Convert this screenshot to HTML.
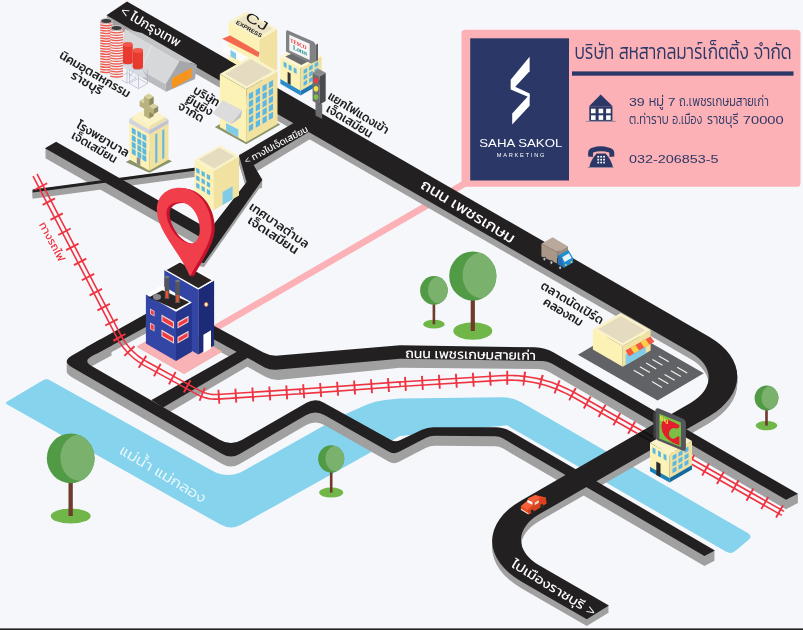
<!DOCTYPE html>
<html lang="th"><head><meta charset="utf-8"><title>แผนที่ บริษัท สหสากลมาร์เก็ตติ้ง จำกัด</title>
<style>
html,body{margin:0;padding:0;background:#f6f7fb;}
body{width:803px;height:630px;overflow:hidden;}
svg{display:block;font-family:'Liberation Sans','Kanit','Prompt','Noto Sans Thai','Noto Sans CJK SC',sans-serif;font-weight:300;}
text{filter:opacity(1);}
</style></head><body>
<svg width="803" height="630" viewBox="0 0 803 630">
<rect width="803" height="630" fill="#f6f7fb"/>
<path d="M 7.2,404.6 Q 4.6,403.1 7.2,401.6 L 43,380.3 Q 46.4,378.3 49.9,380.2 L 212.3,470.7 Q 228,479.5 243.7,470.7 L 340,416.5 L 365.9,405 Q 375,401 385,400 L 400,398.5 L 502.5,397.3 Q 512.5,397.2 521.2,402.2 L 747.8,533.1 Q 753,536.1 748.4,540 L 735.6,550.7 Q 731,554.6 725.8,551.6 L 507,425.3 L 460,430 L 400,436 L 241.5,524.6 Q 231,530.5 220.5,524.6 Z" fill="#86d3ed"/>
<line x1="468" y1="181.6" x2="214" y2="328.9" stroke="#fbb1b5" stroke-width="6.6"/>
<rect x="461.5" y="29.7" width="339" height="157" rx="3.5" fill="#fbb1b5"/>
<rect x="470.2" y="38.3" width="98.8" height="142.2" fill="#2b3867"/>
<rect x="572" y="71.4" width="221.5" height="4.3" fill="#2b3867"/>
<path d="M 205,329 L 262,357 L 400,350 L 540,352 L 797.9,494 L 797.9,502.9 L 786,509.3 L 549.2,372 Q 544,369 538,369 L 400,367.8 L 280.5,379.8 Q 272.5,380.6 265.5,376.7 L 205,343.5 Z" fill="#a0a0a0"/>
<path d="M 127,8.3 L 708.7,343.3 A 98.3 56.8 0 0 1 708.7,423.4 L 539.5,521 A 63.1 36.4 0 0 0 539.5,572.5 L 608.9,612.5 L 586.8,626.1 L 521.3,588.2 A 99.1 57.2 0 0 1 521.3,507.3 L 690.5,409.8 A 62.1 35.85 0 0 0 690.5,359.1 L 106.5,22.2 Z" fill="#a0a0a0"/>
<path d="M 127,7.3 L 708.7,342.3 A 98.3 56.8 0 0 1 708.7,422.4 L 539.5,520 A 63.1 36.4 0 0 0 539.5,571.5 L 608.9,611.5 L 586.8,625.1 L 521.3,587.2 A 99.1 57.2 0 0 1 521.3,506.3 L 690.5,408.8 A 62.1 35.85 0 0 0 690.5,358.1 L 106.5,21.2 Z" fill="#a0a0a0"/>
<path d="M 127,6.3 L 708.7,341.3 A 98.3 56.8 0 0 1 708.7,421.4 L 539.5,519 A 63.1 36.4 0 0 0 539.5,570.5 L 608.9,610.5 L 586.8,624.1 L 521.3,586.2 A 99.1 57.2 0 0 1 521.3,505.3 L 690.5,407.8 A 62.1 35.85 0 0 0 690.5,357.1 L 106.5,20.2 Z" fill="#a0a0a0"/>
<path d="M 127,5.3 L 708.7,340.3 A 98.3 56.8 0 0 1 708.7,420.4 L 539.5,518 A 63.1 36.4 0 0 0 539.5,569.5 L 608.9,609.5 L 586.8,623.1 L 521.3,585.2 A 99.1 57.2 0 0 1 521.3,504.3 L 690.5,406.8 A 62.1 35.85 0 0 0 690.5,356.1 L 106.5,19.2 Z" fill="#a0a0a0"/>
<path d="M 127,4.3 L 708.7,339.3 A 98.3 56.8 0 0 1 708.7,419.4 L 539.5,517 A 63.1 36.4 0 0 0 539.5,568.5 L 608.9,608.5 L 586.8,622.1 L 521.3,584.2 A 99.1 57.2 0 0 1 521.3,503.3 L 690.5,405.8 A 62.1 35.85 0 0 0 690.5,355.1 L 106.5,18.2 Z" fill="#a0a0a0"/>
<path d="M 127,3.3 L 708.7,338.3 A 98.3 56.8 0 0 1 708.7,418.4 L 539.5,516 A 63.1 36.4 0 0 0 539.5,567.5 L 608.9,607.5 L 586.8,621.1 L 521.3,583.2 A 99.1 57.2 0 0 1 521.3,502.3 L 690.5,404.8 A 62.1 35.85 0 0 0 690.5,354.1 L 106.5,17.2 Z" fill="#a0a0a0"/>
<path d="M 127,2.3 L 708.7,337.3 A 98.3 56.8 0 0 1 708.7,417.4 L 539.5,515 A 63.1 36.4 0 0 0 539.5,566.5 L 608.9,606.5 L 586.8,620.1 L 521.3,582.2 A 99.1 57.2 0 0 1 521.3,501.3 L 690.5,403.8 A 62.1 35.85 0 0 0 690.5,353.1 L 106.5,16.2 Z" fill="#a0a0a0"/>
<path d="M 91.7,366.2 Q 82.9,370.9 91.6,375.9 L 219.6,449.8 Q 230.9,456.3 242.2,449.8 L 306.5,412.8 Q 315.2,407.8 323.9,412.7 L 391,450 Q 395.4,452.4 399.9,450.2 L 421.9,439.8 Q 427.3,437.2 433.3,437.2 L 495.7,437.3 Q 503.7,437.3 510.6,441.3 L 714.9,560.4 L 704.4,565.9 L 502.7,448.3 Q 499.2,446.3 495.2,446.3 L 435,445.8 Q 430,445.8 425.6,448.1 L 399.1,461.8 Q 393.8,464.6 388.6,461.6 L 324.8,425.2 Q 315.3,419.7 305.8,425.3 L 239.6,464 Q 231,469 222.3,464 L 71.9,377.3 Q 61.5,371.3 72,365.4 L 100,349.6 L 112,355.3 Z" fill="#a0a0a0"/>
<path d="M 91.7,365.2 Q 82.9,369.9 91.6,374.9 L 219.6,448.8 Q 230.9,455.3 242.2,448.8 L 306.5,411.8 Q 315.2,406.8 323.9,411.7 L 391,449 Q 395.4,451.4 399.9,449.2 L 421.9,438.8 Q 427.3,436.2 433.3,436.2 L 495.7,436.3 Q 503.7,436.3 510.6,440.3 L 714.9,559.4 L 704.4,564.9 L 502.7,447.3 Q 499.2,445.3 495.2,445.3 L 435,444.8 Q 430,444.8 425.6,447.1 L 399.1,460.8 Q 393.8,463.6 388.6,460.6 L 324.8,424.2 Q 315.3,418.7 305.8,424.3 L 239.6,463 Q 231,468 222.3,463 L 71.9,376.3 Q 61.5,370.3 72,364.4 L 100,348.6 L 112,354.3 Z" fill="#a0a0a0"/>
<path d="M 91.7,364.2 Q 82.9,368.9 91.6,373.9 L 219.6,447.8 Q 230.9,454.3 242.2,447.8 L 306.5,410.8 Q 315.2,405.8 323.9,410.7 L 391,448 Q 395.4,450.4 399.9,448.2 L 421.9,437.8 Q 427.3,435.2 433.3,435.2 L 495.7,435.3 Q 503.7,435.3 510.6,439.3 L 714.9,558.4 L 704.4,563.9 L 502.7,446.3 Q 499.2,444.3 495.2,444.3 L 435,443.8 Q 430,443.8 425.6,446.1 L 399.1,459.8 Q 393.8,462.6 388.6,459.6 L 324.8,423.2 Q 315.3,417.7 305.8,423.3 L 239.6,462 Q 231,467 222.3,462 L 71.9,375.3 Q 61.5,369.3 72,363.4 L 100,347.6 L 112,353.3 Z" fill="#a0a0a0"/>
<path d="M 91.7,363.2 Q 82.9,367.9 91.6,372.9 L 219.6,446.8 Q 230.9,453.3 242.2,446.8 L 306.5,409.8 Q 315.2,404.8 323.9,409.7 L 391,447 Q 395.4,449.4 399.9,447.2 L 421.9,436.8 Q 427.3,434.2 433.3,434.2 L 495.7,434.3 Q 503.7,434.3 510.6,438.3 L 714.9,557.4 L 704.4,562.9 L 502.7,445.3 Q 499.2,443.3 495.2,443.3 L 435,442.8 Q 430,442.8 425.6,445.1 L 399.1,458.8 Q 393.8,461.6 388.6,458.6 L 324.8,422.2 Q 315.3,416.7 305.8,422.3 L 239.6,461 Q 231,466 222.3,461 L 71.9,374.3 Q 61.5,368.3 72,362.4 L 100,346.6 L 112,352.3 Z" fill="#a0a0a0"/>
<path d="M 91.7,362.2 Q 82.9,366.9 91.6,371.9 L 219.6,445.8 Q 230.9,452.3 242.2,445.8 L 306.5,408.8 Q 315.2,403.8 323.9,408.7 L 391,446 Q 395.4,448.4 399.9,446.2 L 421.9,435.8 Q 427.3,433.2 433.3,433.2 L 495.7,433.3 Q 503.7,433.3 510.6,437.3 L 714.9,556.4 L 704.4,561.9 L 502.7,444.3 Q 499.2,442.3 495.2,442.3 L 435,441.8 Q 430,441.8 425.6,444.1 L 399.1,457.8 Q 393.8,460.6 388.6,457.6 L 324.8,421.2 Q 315.3,415.7 305.8,421.3 L 239.6,460 Q 231,465 222.3,460 L 71.9,373.3 Q 61.5,367.3 72,361.4 L 100,345.6 L 112,351.3 Z" fill="#a0a0a0"/>
<path d="M 91.7,361.2 Q 82.9,365.9 91.6,370.9 L 219.6,444.8 Q 230.9,451.3 242.2,444.8 L 306.5,407.8 Q 315.2,402.8 323.9,407.7 L 391,445 Q 395.4,447.4 399.9,445.2 L 421.9,434.8 Q 427.3,432.2 433.3,432.2 L 495.7,432.3 Q 503.7,432.3 510.6,436.3 L 714.9,555.4 L 704.4,560.9 L 502.7,443.3 Q 499.2,441.3 495.2,441.3 L 435,440.8 Q 430,440.8 425.6,443.1 L 399.1,456.8 Q 393.8,459.6 388.6,456.6 L 324.8,420.2 Q 315.3,414.7 305.8,420.3 L 239.6,459 Q 231,464 222.3,459 L 71.9,372.3 Q 61.5,366.3 72,360.4 L 100,344.6 L 112,350.3 Z" fill="#a0a0a0"/>
<path d="M 91.7,360.2 Q 82.9,364.9 91.6,369.9 L 219.6,443.8 Q 230.9,450.3 242.2,443.8 L 306.5,406.8 Q 315.2,401.8 323.9,406.7 L 391,444 Q 395.4,446.4 399.9,444.2 L 421.9,433.8 Q 427.3,431.2 433.3,431.2 L 495.7,431.3 Q 503.7,431.3 510.6,435.3 L 714.9,554.4 L 704.4,559.9 L 502.7,442.3 Q 499.2,440.3 495.2,440.3 L 435,439.8 Q 430,439.8 425.6,442.1 L 399.1,455.8 Q 393.8,458.6 388.6,455.6 L 324.8,419.2 Q 315.3,413.7 305.8,419.3 L 239.6,458 Q 231,463 222.3,458 L 71.9,371.3 Q 61.5,365.3 72,359.4 L 100,343.6 L 112,349.3 Z" fill="#a0a0a0"/>
<path d="M 91.7,359.2 Q 82.9,363.9 91.6,368.9 L 219.6,442.8 Q 230.9,449.3 242.2,442.8 L 306.5,405.8 Q 315.2,400.8 323.9,405.7 L 391,443 Q 395.4,445.4 399.9,443.2 L 421.9,432.8 Q 427.3,430.2 433.3,430.2 L 495.7,430.3 Q 503.7,430.3 510.6,434.3 L 714.9,553.4 L 704.4,558.9 L 502.7,441.3 Q 499.2,439.3 495.2,439.3 L 435,438.8 Q 430,438.8 425.6,441.1 L 399.1,454.8 Q 393.8,457.6 388.6,454.6 L 324.8,418.2 Q 315.3,412.7 305.8,418.3 L 239.6,457 Q 231,462 222.3,457 L 71.9,370.3 Q 61.5,364.3 72,358.4 L 100,342.6 L 112,348.3 Z" fill="#a0a0a0"/>
<path d="M 91.7,358.2 Q 82.9,362.9 91.6,367.9 L 219.6,441.8 Q 230.9,448.3 242.2,441.8 L 306.5,404.8 Q 315.2,399.8 323.9,404.7 L 391,442 Q 395.4,444.4 399.9,442.2 L 421.9,431.8 Q 427.3,429.2 433.3,429.2 L 495.7,429.3 Q 503.7,429.3 510.6,433.3 L 714.9,552.4 L 704.4,557.9 L 502.7,440.3 Q 499.2,438.3 495.2,438.3 L 435,437.8 Q 430,437.8 425.6,440.1 L 399.1,453.8 Q 393.8,456.6 388.6,453.6 L 324.8,417.2 Q 315.3,411.7 305.8,417.3 L 239.6,456 Q 231,461 222.3,456 L 71.9,369.3 Q 61.5,363.3 72,357.4 L 100,341.6 L 112,347.3 Z" fill="#a0a0a0"/>
<path d="M 91.7,357.2 Q 82.9,361.9 91.6,366.9 L 219.6,440.8 Q 230.9,447.3 242.2,440.8 L 306.5,403.8 Q 315.2,398.8 323.9,403.7 L 391,441 Q 395.4,443.4 399.9,441.2 L 421.9,430.8 Q 427.3,428.2 433.3,428.2 L 495.7,428.3 Q 503.7,428.3 510.6,432.3 L 714.9,551.4 L 704.4,556.9 L 502.7,439.3 Q 499.2,437.3 495.2,437.3 L 435,436.8 Q 430,436.8 425.6,439.1 L 399.1,452.8 Q 393.8,455.6 388.6,452.6 L 324.8,416.2 Q 315.3,410.7 305.8,416.3 L 239.6,455 Q 231,460 222.3,455 L 71.9,368.3 Q 61.5,362.3 72,356.4 L 100,340.6 L 112,346.3 Z" fill="#a0a0a0"/>
<path d="M 85,354.6 L 180,301.2 L 180,315.1 L 97,359.9 Z" fill="#a0a0a0"/>
<path d="M 85,353.6 L 180,300.2 L 180,314.1 L 97,358.9 Z" fill="#a0a0a0"/>
<path d="M 85,352.6 L 180,299.2 L 180,313.1 L 97,357.9 Z" fill="#a0a0a0"/>
<path d="M 85,351.6 L 180,298.2 L 180,312.1 L 97,356.9 Z" fill="#a0a0a0"/>
<path d="M 85,350.6 L 180,297.2 L 180,311.1 L 97,355.9 Z" fill="#a0a0a0"/>
<path d="M 85,349.6 L 180,296.2 L 180,310.1 L 97,354.9 Z" fill="#a0a0a0"/>
<path d="M 85,348.6 L 180,295.2 L 180,309.1 L 97,353.9 Z" fill="#a0a0a0"/>
<path d="M 151.5,408.5 L 240,358.3 L 250,364.9 L 163,416 Z" fill="#a0a0a0"/>
<path d="M 151.5,407.5 L 240,357.3 L 250,363.9 L 163,415 Z" fill="#a0a0a0"/>
<path d="M 151.5,406.5 L 240,356.3 L 250,362.9 L 163,414 Z" fill="#a0a0a0"/>
<path d="M 151.5,405.5 L 240,355.3 L 250,361.9 L 163,413 Z" fill="#a0a0a0"/>
<path d="M 151.5,404.5 L 240,354.3 L 250,360.9 L 163,412 Z" fill="#a0a0a0"/>
<path d="M 151.5,403.5 L 240,353.3 L 250,359.9 L 163,411 Z" fill="#a0a0a0"/>
<path d="M 151.5,402.5 L 240,352.3 L 250,358.9 L 163,410 Z" fill="#a0a0a0"/>
<path d="M 151.5,401.5 L 240,351.3 L 250,357.9 L 163,409 Z" fill="#a0a0a0"/>
<path d="M 151.5,400.5 L 240,350.3 L 250,356.9 L 163,408 Z" fill="#a0a0a0"/>
<path d="M 293.6,131.1 L 322,141 L 310.7,138.7 L 253.6,173.2 L 262.3,188.1 L 246.6,189.9 L 238.9,163.2 Z" fill="#a0a0a0"/>
<path d="M 293.6,130.1 L 322,140 L 310.7,137.7 L 253.6,172.2 L 262.3,187.1 L 246.6,188.9 L 238.9,162.2 Z" fill="#a0a0a0"/>
<path d="M 293.6,129.1 L 322,139 L 310.7,136.7 L 253.6,171.2 L 262.3,186.1 L 246.6,187.9 L 238.9,161.2 Z" fill="#a0a0a0"/>
<path d="M 293.6,128.1 L 322,138 L 310.7,135.7 L 253.6,170.2 L 262.3,185.1 L 246.6,186.9 L 238.9,160.2 Z" fill="#a0a0a0"/>
<path d="M 293.6,127.1 L 322,137 L 310.7,134.7 L 253.6,169.2 L 262.3,184.1 L 246.6,185.9 L 238.9,159.2 Z" fill="#a0a0a0"/>
<path d="M 293.6,126.1 L 322,136 L 310.7,133.7 L 253.6,168.2 L 262.3,183.1 L 246.6,184.9 L 238.9,158.2 Z" fill="#a0a0a0"/>
<path d="M 293.6,125.1 L 322,135 L 310.7,132.7 L 253.6,167.2 L 262.3,182.1 L 246.6,183.9 L 238.9,157.2 Z" fill="#a0a0a0"/>
<path d="M 293.6,124.1 L 322,134 L 310.7,131.7 L 253.6,166.2 L 262.3,181.1 L 246.6,182.9 L 238.9,156.2 Z" fill="#a0a0a0"/>
<path d="M 253.6,169.2 L 262.3,184.1 L 212.5,254.9 L 204,267 L 186,264 L 214.2,227.8 L 246.6,185.9 Z" fill="#a0a0a0"/>
<path d="M 253.6,168.2 L 262.3,183.1 L 212.5,253.9 L 204,266 L 186,263 L 214.2,226.8 L 246.6,184.9 Z" fill="#a0a0a0"/>
<path d="M 253.6,167.2 L 262.3,182.1 L 212.5,252.9 L 204,265 L 186,262 L 214.2,225.8 L 246.6,183.9 Z" fill="#a0a0a0"/>
<path d="M 253.6,166.2 L 262.3,181.1 L 212.5,251.9 L 204,264 L 186,261 L 214.2,224.8 L 246.6,182.9 Z" fill="#a0a0a0"/>
<path d="M 56.1,151.4 L 218,244.3 L 208,251.1 L 45,158 Z" fill="#a0a0a0"/>
<path d="M 56.1,150.4 L 218,243.3 L 208,250.1 L 45,157 Z" fill="#a0a0a0"/>
<path d="M 56.1,149.4 L 218,242.3 L 208,249.1 L 45,156 Z" fill="#a0a0a0"/>
<path d="M 56.1,148.4 L 218,241.3 L 208,248.1 L 45,155 Z" fill="#a0a0a0"/>
<path d="M 56.1,147.4 L 218,240.3 L 208,247.1 L 45,154 Z" fill="#a0a0a0"/>
<path d="M 56.1,146.4 L 218,239.3 L 208,246.1 L 45,153 Z" fill="#a0a0a0"/>
<path d="M 56.1,145.4 L 218,238.3 L 208,245.1 L 45,152 Z" fill="#a0a0a0"/>
<path d="M 56.1,144.4 L 218,237.3 L 208,244.1 L 45,151 Z" fill="#a0a0a0"/>
<path d="M 56.1,143.4 L 218,236.3 L 208,243.1 L 45,150 Z" fill="#a0a0a0"/>
<path d="M 56.1,142.4 L 218,235.3 L 208,242.1 L 45,149 Z" fill="#a0a0a0"/>
<path d="M 32.6,195.9 L 200,173.3 L 200,176.2 L 32.6,198.8 Z" fill="#a0a0a0"/>
<path d="M 32.6,194.9 L 200,172.3 L 200,175.2 L 32.6,197.8 Z" fill="#a0a0a0"/>
<path d="M 32.6,193.9 L 200,171.3 L 200,174.2 L 32.6,196.8 Z" fill="#a0a0a0"/>
<path d="M 32.6,192.9 L 200,170.3 L 200,173.2 L 32.6,195.8 Z" fill="#a0a0a0"/>
<path d="M 32.6,191.9 L 200,169.3 L 200,172.2 L 32.6,194.8 Z" fill="#a0a0a0"/>
<path d="M 32.6,190.9 L 200,168.3 L 200,171.2 L 32.6,193.8 Z" fill="#a0a0a0"/>
<path d="M 32.6,189.9 L 200,167.3 L 200,170.2 L 32.6,192.8 Z" fill="#a0a0a0"/>
<path d="M 127,1.4 L 708.7,336.4 A 98.3 56.8 0 0 1 708.7,416.5 L 539.5,514.1 A 63.1 36.4 0 0 0 539.5,565.6 L 608.9,605.6 L 586.8,619.2 L 521.3,581.4 A 99.1 57.2 0 0 1 521.3,500.4 L 690.5,402.9 A 62.1 35.85 0 0 0 690.5,352.2 L 106.5,15.3 Z" fill="#232021"/>
<path d="M 205,321 L 263.5,352.5 Q 270.5,356.3 278.5,355.6 L 400,345.3 L 535,347.3 Q 545,347.5 553.7,352.5 L 797.9,493.8 L 786,499.8 L 551.8,363.5 Q 547.5,361 542.5,360.9 L 400,358.8 L 276,369.8 Q 270,370.3 264.7,367.4 L 205,334.6 Z" fill="#232021"/>
<path d="M 91.7,356.2 Q 82.9,360.9 91.6,365.9 L 219.6,439.8 Q 230.9,446.3 242.2,439.8 L 306.5,402.8 Q 315.2,397.8 323.9,402.7 L 391,440 Q 395.4,442.4 399.9,440.2 L 421.9,429.8 Q 427.3,427.2 433.3,427.2 L 495.7,427.3 Q 503.7,427.3 510.6,431.3 L 714.9,550.4 L 704.4,555.9 L 502.7,438.3 Q 499.2,436.3 495.2,436.3 L 435,435.8 Q 430,435.8 425.6,438.1 L 399.1,451.8 Q 393.8,454.6 388.6,451.6 L 324.8,415.2 Q 315.3,409.7 305.8,415.3 L 239.6,454 Q 231,459 222.3,454 L 71.9,367.3 Q 61.5,361.3 72,355.4 L 100,339.6 L 112,345.3 Z" fill="#232021"/>
<path d="M 85,348.1 L 180,294.7 L 180,308.6 L 97,353.4 Z" fill="#232021"/>
<path d="M 151.5,400.1 L 240,349.9 L 250,356.5 L 163,407.6 Z" fill="#232021"/>
<path d="M 293.6,123.1 L 322,133 L 310.7,130.7 L 253.6,165.2 L 262.3,180.1 L 246.6,181.9 L 238.9,155.2 Z" fill="#232021"/>
<path d="M 253.6,165.2 L 262.3,180.1 L 212.5,250.9 L 204,263 L 186,260 L 214.2,223.8 L 246.6,181.9 Z" fill="#232021"/>
<path d="M 56.1,141.7 L 218,234.6 L 208,241.4 L 45,148.3 Z" fill="#232021"/>
<path d="M 32.6,189.6 L 200,167 L 200,169.9 L 32.6,192.5 Z" fill="#232021"/>
<polygon points="577.9,354.7 657.6,400.6 703.8,373.3 624.1,327.4" fill="#616265" />
<line x1="633.7" y1="370.3" x2="643.7" y2="376.1" stroke="#f4f4f4" stroke-width="1.1"/>
<line x1="639.9" y1="366.7" x2="649.9" y2="372.5" stroke="#f4f4f4" stroke-width="1.1"/>
<line x1="646.2" y1="363.1" x2="656.2" y2="368.9" stroke="#f4f4f4" stroke-width="1.1"/>
<line x1="652.5" y1="359.5" x2="662.5" y2="365.3" stroke="#f4f4f4" stroke-width="1.1"/>
<line x1="658.8" y1="355.9" x2="668.8" y2="361.7" stroke="#f4f4f4" stroke-width="1.1"/>
<line x1="652" y1="381.6" x2="662" y2="387.4" stroke="#f4f4f4" stroke-width="1.1"/>
<line x1="658.3" y1="378" x2="668.3" y2="383.8" stroke="#f4f4f4" stroke-width="1.1"/>
<line x1="664.6" y1="374.4" x2="674.6" y2="380.2" stroke="#f4f4f4" stroke-width="1.1"/>
<line x1="670.9" y1="370.8" x2="680.9" y2="376.6" stroke="#f4f4f4" stroke-width="1.1"/>
<line x1="677.2" y1="367.2" x2="687.2" y2="373" stroke="#f4f4f4" stroke-width="1.1"/>
<polygon points="592.9,349.5 622.7,366.7 622.7,346.2 592.9,329" fill="#fdf2b6" />
<polygon points="622.7,366.7 650.6,350.6 650.6,330.1 622.7,346.2" fill="#f1e2a2" />
<polygon points="592.9,329 622.7,346.2 650.6,330.1 620.8,312.9" fill="#fbf3c8" />
<polygon points="598.1,329.1 622.5,343.2 645.4,330 621,315.9" fill="#e4dbc0" />
<polygon points="625.7,365 645.7,353.4 645.7,342.4 625.7,354" fill="#7fcbe8" />
<polygon points="625.5,350.5 650.6,336.5 654.5,341.8 629,356.2" fill="#f15a40" />
<polygon points="630.5,347.7 635.5,344.9 639.2,350.4 634.1,353.3" fill="#fbd04a" />
<polygon points="640.6,342.1 645.6,339.3 649.4,344.7 644.3,347.6" fill="#fbd04a" />
<clipPath id="railclip"><path clip-rule="evenodd" d="M0,0H803V630H0Z M622,442.3 L665,417.5 L677,436.5 L634,461.3Z"/></clipPath><g clip-path="url(#railclip)">
<polyline points="35,175 118.3,335.4 119.7,338 121.3,340.5 122.9,343 124.6,345.3 126.3,347.6 128.2,349.8 130.2,351.9 132.2,353.9 134.4,355.8 136.6,357.6 138.9,359.4 141.3,361 143.8,362.6 146.4,364.1 198.7,392.6 201.3,393.9 203.8,394.9 206.5,395.7 209.1,396.3 211.9,396.7 214.7,396.8 217.5,396.8 300,391.5 300,391.5 300,391.5 400,384.2 400,384.2 400,384.2 499.9,378.1 502.9,377.9 506,377.8 509,377.8 512,377.8 515,377.9 518,378.1 521,378.3 524,378.6 526.9,379 529.8,379.4 532.7,379.9 535.6,380.5 538.5,381.1 541.4,381.8 544.2,382.6 547.1,383.4 549.9,384.3 552.7,385.3 555.5,386.3 558.3,387.4 561,388.6 563.8,389.8 566.5,391.1 569.2,392.4 571.9,393.8 574.6,395.3 783,513.4" fill="none" stroke="#ef3441" stroke-width="14" stroke-dasharray="1.9 15.1" stroke-dashoffset="-12"/>
<polyline points="33,176.1 116.3,336.4 117.7,339.1 119.3,341.7 121,344.3 122.7,346.7 124.6,349 126.5,351.3 128.5,353.5 130.7,355.5 132.9,357.5 135.2,359.4 137.6,361.2 140.1,362.9 142.7,364.6 145.3,366.1 197.6,394.6 200.3,396 203.1,397.1 205.9,397.9 208.7,398.6 211.7,399 214.6,399.1 217.6,399.1 300.1,393.8 300,391.5 300.2,393.8 400.2,386.5 400,384.2 400.1,386.5 500,380.4 503,380.2 506,380.1 509,380.1 512,380.1 514.9,380.2 517.9,380.4 520.8,380.6 523.7,380.9 526.6,381.3 529.5,381.7 532.3,382.2 535.2,382.8 538,383.4 540.8,384.1 543.6,384.8 546.4,385.6 549.2,386.5 551.9,387.5 554.7,388.5 557.4,389.5 560.1,390.7 562.8,391.9 565.5,393.1 568.2,394.5 570.8,395.9 573.5,397.3 781.9,515.4" fill="none" stroke="#ef3441" stroke-width="1.6"/>
<polyline points="37,173.9 120.4,334.3 121.7,336.8 123.2,339.3 124.8,341.7 126.4,343.9 128.1,346.1 129.9,348.2 131.8,350.2 133.8,352.2 135.9,354 138,355.8 140.3,357.5 142.6,359.1 145,360.6 147.5,362 199.8,390.6 202.2,391.8 204.6,392.7 207.1,393.5 209.6,394 212.1,394.4 214.7,394.5 217.3,394.5 299.9,389.2 300,391.5 299.8,389.2 399.8,381.9 400,384.2 399.9,381.9 499.7,375.8 502.8,375.6 505.9,375.5 509,375.5 512.1,375.5 515.1,375.6 518.2,375.8 521.2,376.1 524.2,376.4 527.2,376.7 530.2,377.2 533.2,377.7 536.1,378.3 539,378.9 542,379.6 544.9,380.4 547.7,381.2 550.6,382.1 553.5,383.1 556.3,384.2 559.1,385.3 561.9,386.4 564.7,387.7 567.5,389 570.3,390.4 573,391.8 575.7,393.3 784.1,511.4" fill="none" stroke="#ef3441" stroke-width="1.6"/>
</g>
<line x1="642.5" y1="431.1" x2="658" y2="439.9" stroke="#141213" stroke-width="2.4"/>
<line x1="638" y1="433.8" x2="658" y2="445.1" stroke="#141213" stroke-width="2.4"/>
<polygon points="650,471.2 669.5,482.5 669.5,478 650,466.7" fill="#1c7fb8" />
<polygon points="669.5,482.5 692,469.5 692,465 669.5,478" fill="#176a9c" />
<polygon points="650,466.7 669.5,478 692,465 672.5,453.8" fill="#1c7fb8" />
<polygon points="650,466.7 669.5,478 669.5,454 650,442.7" fill="#fdf2b6" />
<polygon points="669.5,478 692,465 692,441 669.5,454" fill="#f1e2a2" />
<polygon points="650,442.7 669.5,454 692,441 672.5,429.8" fill="#fbf3c8" />
<polygon points="660.5,477.3 656.3,474.9 656.3,461.4 660.5,463.8" fill="#2a2a2c" />
<polygon points="666.5,460.8 663.5,459 663.5,453.5 666.5,455.3" fill="#5cb7e3" />
<polygon points="661,457.6 658,455.9 658,450.4 661,452.1" fill="#5cb7e3" />
<polygon points="655.5,454.4 652.5,452.7 652.5,447.2 655.5,448.9" fill="#5cb7e3" />
<polygon points="672.5,473.3 676.5,471 676.5,466.5 672.5,468.8" fill="#5cb7e3" />
<polygon points="672.5,466.8 676.5,464.5 676.5,460 672.5,462.3" fill="#5cb7e3" />
<polygon points="672.5,460.3 676.5,458 676.5,453.5 672.5,455.8" fill="#5cb7e3" />
<polygon points="678.5,469.8 682.5,467.5 682.5,463 678.5,465.3" fill="#5cb7e3" />
<polygon points="678.5,463.3 682.5,461 682.5,456.5 678.5,458.8" fill="#5cb7e3" />
<polygon points="678.5,456.8 682.5,454.5 682.5,450 678.5,452.3" fill="#5cb7e3" />
<polygon points="684.5,466.3 688.5,464 688.5,459.5 684.5,461.8" fill="#5cb7e3" />
<polygon points="684.5,459.8 688.5,457.5 688.5,453 684.5,455.3" fill="#5cb7e3" />
<polygon points="684.5,453.3 688.5,451 688.5,446.5 684.5,448.8" fill="#5cb7e3" />
<path d="M659,408.6 L682.6,418.6 Q685.9,420.2 685.9,423.6 L685.9,447.8 Q685.9,452.2 682.2,450.5 L658.2,440.4 Q655.3,439 655.3,436 L655.3,410.8 Q655.3,407.2 659,408.6 Z" fill="#55565a"/>
<path d="M655.3,411 L653.3,412.6 L653.3,437.2 L655.8,439.4 Z" fill="#3c3d40"/>
<polygon points="659.4,413.8 680.8,422.5 680.8,447.1 659.4,438.4" fill="#7ac143" />
<path d="M679.4,425 L679.4,445.2 L672.5,442.4 Q662.2,437 661.4,427 Q661.2,418.6 668.4,419.8 Z" fill="#e31e2d"/>
<ellipse cx="673.6" cy="433.4" rx="4.6" ry="5.4" fill="#7ac143" transform="rotate(18 673.6 433.4)"/>
<polygon points="674.4,429.4 680.8,427 680.8,436.6 676.4,436.4" fill="#7ac143" />
<text transform="matrix(0.92,0.38,0,1,659.8,419.8)" font-size="5.8" font-weight="bold" fill="#ffe14d" font-family="'Liberation Sans',sans-serif">Big</text>
<polygon points="125.1,29 179.7,61.1 165.5,84.3 118,57" fill="#d6d8da" />
<polygon points="125.1,29 179.7,61.1 196.9,64.8 142,33" fill="#c3c5c8" />
<polygon points="179.7,61.1 196.9,64.8 195,79 166.2,91.7 165.5,84.3" fill="#a5a7aa" />
<polygon points="172,78.3 191.6,67.8 191.6,77.5 172,88.8" fill="#f7941d" />
<polygon points="165.5,84.3 166.2,91.7 118,64 118,57" fill="#b9bbbe" />
<line x1="152" y1="45" x2="141" y2="70" stroke="#e9eaeb" stroke-width="0.8"/>
<path d="M118,78 l9,-5.2 l9,5.2 l-9,5.2 z M118,78 l0,-14 M127,83.2 l0,-14 M136,78 l0,-14 M118,72 l5,-8 l8,0 l5,8" fill="#eef0f6" fill-opacity="0.6" stroke="#aab0c2" stroke-width="0.6"/>
<path d="M129.5,83.5 l9,-5.2 l9,5.2 l-9,5.2 z M129.5,83.5 l0,-14 M138.5,88.7 l0,-14 M147.5,83.5 l0,-14 M129.5,77.5 l5,-8 l8,0 l5,8" fill="#eef0f6" fill-opacity="0.6" stroke="#aab0c2" stroke-width="0.6"/>
<rect x="100.2" y="21" width="12.4" height="52" fill="#f1f1f3"/>
<ellipse cx="106.4" cy="73" rx="6.2" ry="2.7" fill="#f1f1f3"/>
<path d="M100.2,22.3 q6.2,1.7 12.4,0" fill="none" stroke="#ee5b4f" stroke-width="1.3"/>
<path d="M100.2,24.9 q6.2,1.7 12.4,0" fill="none" stroke="#ee5b4f" stroke-width="1.3"/>
<path d="M100.2,27.5 q6.2,1.7 12.4,0" fill="none" stroke="#ee5b4f" stroke-width="1.3"/>
<path d="M100.2,30.1 q6.2,1.7 12.4,0" fill="none" stroke="#ee5b4f" stroke-width="1.3"/>
<path d="M100.2,32.7 q6.2,1.7 12.4,0" fill="none" stroke="#ee5b4f" stroke-width="1.3"/>
<path d="M100.2,35.3 q6.2,1.7 12.4,0" fill="none" stroke="#ee5b4f" stroke-width="1.3"/>
<path d="M100.2,37.9 q6.2,1.7 12.4,0" fill="none" stroke="#ee5b4f" stroke-width="1.3"/>
<path d="M100.2,40.5 q6.2,1.7 12.4,0" fill="none" stroke="#ee5b4f" stroke-width="1.3"/>
<path d="M100.2,43.1 q6.2,1.7 12.4,0" fill="none" stroke="#ee5b4f" stroke-width="1.3"/>
<path d="M100.2,45.7 q6.2,1.7 12.4,0" fill="none" stroke="#ee5b4f" stroke-width="1.3"/>
<path d="M100.2,48.3 q6.2,1.7 12.4,0" fill="none" stroke="#ee5b4f" stroke-width="1.3"/>
<path d="M100.2,50.9 q6.2,1.7 12.4,0" fill="none" stroke="#ee5b4f" stroke-width="1.3"/>
<path d="M100.2,53.5 q6.2,1.7 12.4,0" fill="none" stroke="#ee5b4f" stroke-width="1.3"/>
<path d="M100.2,56.1 q6.2,1.7 12.4,0" fill="none" stroke="#ee5b4f" stroke-width="1.3"/>
<path d="M100.2,58.7 q6.2,1.7 12.4,0" fill="none" stroke="#ee5b4f" stroke-width="1.3"/>
<path d="M100.2,61.3 q6.2,1.7 12.4,0" fill="none" stroke="#ee5b4f" stroke-width="1.3"/>
<path d="M100.2,63.9 q6.2,1.7 12.4,0" fill="none" stroke="#ee5b4f" stroke-width="1.3"/>
<path d="M100.2,66.5 q6.2,1.7 12.4,0" fill="none" stroke="#ee5b4f" stroke-width="1.3"/>
<path d="M100.2,69.1 q6.2,1.7 12.4,0" fill="none" stroke="#ee5b4f" stroke-width="1.3"/>
<path d="M100.2,71.7 q6.2,1.7 12.4,0" fill="none" stroke="#ee5b4f" stroke-width="1.3"/>
<ellipse cx="106.4" cy="21" rx="5.7" ry="2.5" fill="#3a3a3c" stroke="#c9cbd0" stroke-width="1"/>
<rect x="110.3" y="28" width="12.6" height="51" fill="#f1f1f3"/>
<ellipse cx="116.6" cy="79" rx="6.3" ry="2.8" fill="#f1f1f3"/>
<path d="M110.3,29.3 q6.3,1.8 12.6,0" fill="none" stroke="#ee5b4f" stroke-width="1.3"/>
<path d="M110.3,31.9 q6.3,1.8 12.6,0" fill="none" stroke="#ee5b4f" stroke-width="1.3"/>
<path d="M110.3,34.5 q6.3,1.8 12.6,0" fill="none" stroke="#ee5b4f" stroke-width="1.3"/>
<path d="M110.3,37.1 q6.3,1.8 12.6,0" fill="none" stroke="#ee5b4f" stroke-width="1.3"/>
<path d="M110.3,39.7 q6.3,1.8 12.6,0" fill="none" stroke="#ee5b4f" stroke-width="1.3"/>
<path d="M110.3,42.3 q6.3,1.8 12.6,0" fill="none" stroke="#ee5b4f" stroke-width="1.3"/>
<path d="M110.3,44.9 q6.3,1.8 12.6,0" fill="none" stroke="#ee5b4f" stroke-width="1.3"/>
<path d="M110.3,47.5 q6.3,1.8 12.6,0" fill="none" stroke="#ee5b4f" stroke-width="1.3"/>
<path d="M110.3,50.1 q6.3,1.8 12.6,0" fill="none" stroke="#ee5b4f" stroke-width="1.3"/>
<path d="M110.3,52.7 q6.3,1.8 12.6,0" fill="none" stroke="#ee5b4f" stroke-width="1.3"/>
<path d="M110.3,55.3 q6.3,1.8 12.6,0" fill="none" stroke="#ee5b4f" stroke-width="1.3"/>
<path d="M110.3,57.9 q6.3,1.8 12.6,0" fill="none" stroke="#ee5b4f" stroke-width="1.3"/>
<path d="M110.3,60.5 q6.3,1.8 12.6,0" fill="none" stroke="#ee5b4f" stroke-width="1.3"/>
<path d="M110.3,63.1 q6.3,1.8 12.6,0" fill="none" stroke="#ee5b4f" stroke-width="1.3"/>
<path d="M110.3,65.7 q6.3,1.8 12.6,0" fill="none" stroke="#ee5b4f" stroke-width="1.3"/>
<path d="M110.3,68.3 q6.3,1.8 12.6,0" fill="none" stroke="#ee5b4f" stroke-width="1.3"/>
<path d="M110.3,70.9 q6.3,1.8 12.6,0" fill="none" stroke="#ee5b4f" stroke-width="1.3"/>
<path d="M110.3,73.5 q6.3,1.8 12.6,0" fill="none" stroke="#ee5b4f" stroke-width="1.3"/>
<path d="M110.3,76.1 q6.3,1.8 12.6,0" fill="none" stroke="#ee5b4f" stroke-width="1.3"/>
<ellipse cx="116.6" cy="28" rx="5.8" ry="2.5" fill="#3a3a3c" stroke="#c9cbd0" stroke-width="1"/>
<rect x="122.9" y="44.5" width="9.8" height="17.5" fill="#e93a2f"/>
<ellipse cx="127.8" cy="62" rx="4.9" ry="2.2" fill="#e93a2f"/>
<ellipse cx="127.8" cy="44.5" rx="4.9" ry="2.4" fill="#f2584a"/>
<rect x="132.8" y="50.5" width="10.2" height="16.5" fill="#e93a2f"/>
<ellipse cx="137.9" cy="67" rx="5.1" ry="2.2" fill="#e93a2f"/>
<ellipse cx="137.9" cy="50.5" rx="5.1" ry="2.4" fill="#f2584a"/>
<clipPath id="cjclip"><polygon points="200,0 340,0 340,124.0 200,43.4"/></clipPath><g clip-path="url(#cjclip)">
<polygon points="228.6,62.2 259.4,80 259.4,39.6 228.6,21.8" fill="#fdf2b6" />
<polygon points="259.4,80 277.2,69.7 277.2,29.3 259.4,39.6" fill="#f1e2a2" />
<polygon points="228.6,21.8 259.4,39.6 277.2,29.3 246.4,11.6" fill="#fbf3c8" />
<polygon points="233,22.5 258.2,37.1 272.8,28.7 247.6,14.1" fill="#ece4c6" />
<polygon points="223,43 258.5,63.5 258.5,72 223,51.5" fill="#fbfbfb" />
<polygon points="230.5,50 236,53.2 236,59.5 230.5,56.3" fill="#7fcbe8" />
<polygon points="222.1,38.8 230.2,35.4 259.6,52.4 258.3,57.2" fill="#f2694f" />
<text transform="translate(244.3,19.3) rotate(30)" font-size="13" fill="#1a1a1a" font-family="'Liberation Sans',sans-serif" textLength="24" lengthAdjust="spacingAndGlyphs">CJ</text>
<text transform="translate(235.6,23.4) rotate(30)" font-size="5.6" font-weight="bold" fill="#1a1a1a" font-family="'Liberation Sans',sans-serif" textLength="29" lengthAdjust="spacingAndGlyphs">EXPRESS</text>
</g>
<polygon points="280.4,83.8 300.6,95.5 300.6,90.5 280.4,78.8" fill="#2a8ccb" />
<polygon points="300.6,95.5 321.7,83.3 321.7,78.3 300.6,90.5" fill="#1f76b2" />
<polygon points="280.4,78.8 300.6,90.5 321.7,78.3 301.5,66.7" fill="#2a8ccb" />
<polygon points="280.4,79.1 300.6,90.8 300.6,68.2 280.4,56.5" fill="#fdf2b6" />
<polygon points="300.6,90.8 321.7,78.6 321.7,56 300.6,68.2" fill="#f1e2a2" />
<polygon points="280.4,56.5 300.6,68.2 321.7,56 301.5,44.4" fill="#fdf6d2" />
<polygon points="290.6,85 287.6,83.3 287.6,71.8 290.6,73.5" fill="#333" />
<polygon points="296.6,74 293.6,72.3 293.6,67.3 296.6,69" fill="#5cb7e3" />
<polygon points="291.6,71.1 288.6,69.4 288.6,64.4 291.6,66.1" fill="#5cb7e3" />
<polygon points="286.6,68.2 283.6,66.5 283.6,61.5 286.6,63.2" fill="#5cb7e3" />
<polygon points="303.6,86.1 307.2,84 307.2,79.8 303.6,81.9" fill="#5cb7e3" />
<polygon points="303.6,80.1 307.2,78 307.2,73.8 303.6,75.9" fill="#5cb7e3" />
<polygon points="303.6,74.1 307.2,72 307.2,67.8 303.6,69.9" fill="#5cb7e3" />
<polygon points="309.1,82.9 312.7,80.8 312.7,76.6 309.1,78.7" fill="#5cb7e3" />
<polygon points="309.1,76.9 312.7,74.8 312.7,70.6 309.1,72.7" fill="#5cb7e3" />
<polygon points="309.1,70.9 312.7,68.8 312.7,64.6 309.1,66.7" fill="#5cb7e3" />
<polygon points="314.6,79.7 318.2,77.6 318.2,73.4 314.6,75.5" fill="#5cb7e3" />
<polygon points="314.6,73.7 318.2,71.6 318.2,67.4 314.6,69.5" fill="#5cb7e3" />
<polygon points="314.6,67.7 318.2,65.6 318.2,61.4 314.6,63.5" fill="#5cb7e3" />
<polygon points="285.2,56.6 292.5,53.2 308.9,60.9 301.4,64.9" fill="#6a6b6e" />
<path d="M288,30.4 L313.2,41.5 Q315.4,42.6 315.4,45 L315.4,61.8 L311,63.5 L286,51.5 L286,32 Q286,29.7 288,30.4 Z" fill="#808285"/>
<path d="M315.4,45 L318,43.6 L318,60.3 L315.4,61.8 Z" fill="#5f6063"/>
<polygon points="289.3,34.8 309.7,43.8 309.7,60 289.3,50.4" fill="#f6f6f6" />
<text transform="matrix(0.9,0.42,0,1,290.3,42)" font-size="5.6" font-weight="bold" fill="#e0202c" font-family="'Liberation Serif',serif" textLength="18" lengthAdjust="spacingAndGlyphs">TESCO</text>
<text transform="matrix(0.9,0.42,0,1,293,49.2)" font-size="6.6" font-weight="bold" fill="#1d8a8f" font-family="'Liberation Serif',serif" textLength="16" lengthAdjust="spacingAndGlyphs">Lotus</text>
<polygon points="214.8,127 246.2,144.2 280.3,124.6 249,107.5" fill="#8a9466" />
<polygon points="219.8,127 246.2,142.2 246.2,89.3 219.8,74.1" fill="#fdf2b6" />
<polygon points="246.2,142.2 277.5,124.1 277.5,71.2 246.2,89.3" fill="#f1e2a2" />
<polygon points="219.8,74.1 246.2,89.3 277.5,71.2 251.1,56" fill="#fbf3c8" />
<polygon points="225,73.8 246.6,86.3 272.3,71.5 250.7,59" fill="#e4dbc0" />
<polygon points="248.9,131.7 253.1,129.3 253.1,123.3 248.9,125.7" fill="#5cb7e3" />
<polygon points="248.9,123.5 253.1,121.1 253.1,115.1 248.9,117.5" fill="#5cb7e3" />
<polygon points="248.9,115.5 253.1,113.1 253.1,107.1 248.9,109.5" fill="#5cb7e3" />
<polygon points="248.9,107.6 253.1,105.2 253.1,99.2 248.9,101.6" fill="#5cb7e3" />
<polygon points="248.9,99.8 253.1,97.4 253.1,91.4 248.9,93.8" fill="#5cb7e3" />
<polygon points="255.8,127.8 260,125.3 260,119.3 255.8,121.8" fill="#5cb7e3" />
<polygon points="255.8,119.6 260,117.1 260,111.1 255.8,113.6" fill="#5cb7e3" />
<polygon points="255.8,111.6 260,109.1 260,103.1 255.8,105.6" fill="#5cb7e3" />
<polygon points="255.8,103.7 260,101.2 260,95.2 255.8,97.7" fill="#5cb7e3" />
<polygon points="255.8,95.9 260,93.4 260,87.4 255.8,89.9" fill="#5cb7e3" />
<polygon points="262.5,123.9 266.7,121.5 266.7,115.5 262.5,117.9" fill="#5cb7e3" />
<polygon points="262.5,115.7 266.7,113.3 266.7,107.3 262.5,109.7" fill="#5cb7e3" />
<polygon points="262.5,107.7 266.7,105.3 266.7,99.3 262.5,101.7" fill="#5cb7e3" />
<polygon points="262.5,99.8 266.7,97.4 266.7,91.4 262.5,93.8" fill="#5cb7e3" />
<polygon points="262.5,92 266.7,89.6 266.7,83.6 262.5,86" fill="#5cb7e3" />
<polygon points="268.8,120.3 273,117.8 273,111.8 268.8,114.3" fill="#5cb7e3" />
<polygon points="268.8,112.1 273,109.6 273,103.6 268.8,106.1" fill="#5cb7e3" />
<polygon points="268.8,104.1 273,101.6 273,95.6 268.8,98.1" fill="#5cb7e3" />
<polygon points="268.8,96.2 273,93.7 273,87.7 268.8,90.2" fill="#5cb7e3" />
<polygon points="268.8,88.4 273,85.9 273,79.9 268.8,82.4" fill="#5cb7e3" />
<polygon points="226,123.1 238.4,129.6 238.4,137.6 226,130.5" fill="#7fcbe8" />
<polygon points="222.7,100.2 242.3,110.3 240.6,117.5 231.1,124.3 212.6,113.6" fill="#dcdcdc" />
<polygon points="231.1,124.3 240.6,117.5 242.3,110.3" fill="#c2c2c4" />
<polygon points="315.5,101 322.2,104.5 322.2,119 315.5,115.5" fill="#6b6c6f" />
<polygon points="312.6,72.7 319.5,76.5 319.5,104.8 312.6,101" fill="#6d6e71" />
<polygon points="319.5,76.5 325.7,72.7 325.7,101 319.5,104.8" fill="#4a4b4e" />
<polygon points="312.6,72.7 319.5,76.5 325.7,72.7 318.8,68.9" fill="#8a8b8e" />
<ellipse cx="316" cy="80.5" rx="2.3" ry="2.8" fill="#ee3a43"/>
<ellipse cx="316" cy="88.8" rx="2.3" ry="2.8" fill="#f5e04a"/>
<ellipse cx="316" cy="97" rx="2.3" ry="2.8" fill="#7ac143"/>
<polygon points="125.7,162 149.3,172.8 172,161.2 148.4,150.4" fill="#8a9466" />
<polygon points="129.2,159.2 149.3,170.8 149.3,134.3 129.2,122.7" fill="#fdf2b6" />
<polygon points="149.3,170.8 168.5,159.7 168.5,123.2 149.3,134.3" fill="#f1e2a2" />
<polygon points="129.2,122.7 149.3,134.3 168.5,123.2 148.4,111.6" fill="#cfcfd6" />
<polygon points="129.2,122.7 149.3,134.3 149.3,130.5 129.2,118.9" fill="#d3d3dc" />
<polygon points="149.3,134.3 168.5,123.2 168.5,119.4 149.3,130.5" fill="#c2c2cd" />
<polygon points="129.2,118.9 149.3,130.5 168.5,119.4 148.4,107.8" fill="#d9d9e1" />
<polygon points="132.3,119.7 149.3,129.5 149.3,126.3 132.3,116.5" fill="#fdf2b6" />
<polygon points="149.3,129.5 165.5,120.2 165.5,117 149.3,126.3" fill="#f1e2a2" />
<polygon points="132.3,116.5 149.3,126.3 165.5,117 148.5,107.1" fill="#fbf3c8" />
<polygon points="146.3,162.1 142.4,159.8 142.4,154.2 146.3,156.5" fill="#5cb7e3" />
<polygon points="146.3,155.4 142.4,153.1 142.4,147.5 146.3,149.8" fill="#5cb7e3" />
<polygon points="146.3,148.7 142.4,146.4 142.4,140.8 146.3,143.1" fill="#5cb7e3" />
<polygon points="146.3,141.4 142.4,139.1 142.4,133.5 146.3,135.8" fill="#5cb7e3" />
<polygon points="141.3,159.2 137.4,156.9 137.4,151.3 141.3,153.6" fill="#5cb7e3" />
<polygon points="141.3,152.5 137.4,150.2 137.4,144.6 141.3,146.9" fill="#5cb7e3" />
<polygon points="141.3,145.8 137.4,143.5 137.4,137.9 141.3,140.2" fill="#5cb7e3" />
<polygon points="141.3,138.5 137.4,136.2 137.4,130.6 141.3,132.9" fill="#5cb7e3" />
<polygon points="135.7,156 131.8,153.7 131.8,148.1 135.7,150.4" fill="#5cb7e3" />
<polygon points="135.7,149.3 131.8,147 131.8,141.4 135.7,143.7" fill="#5cb7e3" />
<polygon points="135.7,142.6 131.8,140.3 131.8,134.7 135.7,137" fill="#5cb7e3" />
<polygon points="135.7,135.3 131.8,133 131.8,127.4 135.7,129.7" fill="#5cb7e3" />
<polygon points="140.3,165.6 136.8,163.6 136.8,157.1 140.3,159.1" fill="#8d8d90" />
<polygon points="155.3,163.3 157.3,162.2 157.3,133.2 155.3,134.3" fill="#5cb7e3" />
<polygon points="162.3,159.3 164.3,158.1 164.3,129.1 162.3,130.3" fill="#5cb7e3" />
<polygon points="149.1,118.7 153.7,116 153.7,109 149.1,111.7" fill="#8f8a5e" />
<polygon points="153.6,114.3 158.2,111.6 158.2,106.1 153.6,108.8" fill="#8f8a5e" />
<polygon points="149.1,106.2 153.7,103.5 153.7,96.5 149.1,99.2" fill="#8f8a5e" />
<polygon points="144.1,96.3 149.1,99.2 153.7,96.5 148.7,93.6" fill="#d6d09e" />
<polygon points="139.6,100.7 144.1,103.3 148.7,100.6 144.2,98" fill="#d6d09e" />
<polygon points="149.1,106.2 153.6,108.8 158.2,106.1 153.7,103.5" fill="#d6d09e" />
<polygon points="144.1,115.8 149.1,118.7 149.1,111.7 153.6,114.3 153.6,108.8 149.1,106.2 149.1,99.2 144.1,96.3 144.1,103.3 139.6,100.7 139.6,106.2 144.1,108.8" fill="#b9b27e" />
<polygon points="194.6,199.3 213.6,210.3 213.6,170.9 194.6,159.9" fill="#fdf2b6" />
<polygon points="213.6,210.3 239,195.6 239,156.2 213.6,170.9" fill="#f1e2a2" />
<polygon points="194.6,159.9 213.6,170.9 239,156.2 220,145.3" fill="#fbf3c8" />
<polygon points="199,159.6 214.2,168.4 234.6,156.6 219.4,147.8" fill="#e4dbc0" />
<polygon points="210.1,195.3 206.8,193.4 206.8,188.8 210.1,190.7" fill="#5cb7e3" />
<polygon points="210.1,187.8 206.8,185.9 206.8,181.3 210.1,183.2" fill="#5cb7e3" />
<polygon points="210.1,180.3 206.8,178.4 206.8,173.8 210.1,175.7" fill="#5cb7e3" />
<polygon points="204.8,192.2 201.5,190.3 201.5,185.7 204.8,187.6" fill="#5cb7e3" />
<polygon points="204.8,184.7 201.5,182.8 201.5,178.2 204.8,180.1" fill="#5cb7e3" />
<polygon points="204.8,177.2 201.5,175.3 201.5,170.7 204.8,172.6" fill="#5cb7e3" />
<polygon points="199.5,189.2 196.2,187.3 196.2,182.7 199.5,184.6" fill="#5cb7e3" />
<polygon points="199.5,181.7 196.2,179.8 196.2,175.2 199.5,177.1" fill="#5cb7e3" />
<polygon points="199.5,174.2 196.2,172.3 196.2,167.7 199.5,169.6" fill="#5cb7e3" />
<polygon points="222.6,205.1 232.6,199.3 232.6,186.3 222.6,192.1" fill="#7fcbe8" />
<polygon points="137,346.7 184,373.7 222,351.4 175,324.4" fill="#f9b2b6" />
<polygon points="137,346.7 184,373.7 222,351.4 175,324.4" fill="none" stroke="#e8a08a" stroke-width="0.5"/>
<polygon points="164.3,335 198.3,354.6 198.3,289.5 164.3,269.9" fill="#3346a6" />
<polygon points="198.3,354.6 214.1,345.5 214.1,280.4 198.3,289.5" fill="#1d2a78" />
<polygon points="164.3,269.9 198.3,289.5 214.1,280.4 180.1,260.8" fill="#ffffff" />
<polygon points="166.5,270 198.3,288 211.6,280.3 180,262.5" fill="#2a2324" />
<polygon points="145.9,343.6 176,361 176,311.7 145.9,294.3" fill="#3346a6" />
<polygon points="176,361 191.9,351.8 191.9,302.5 176,311.7" fill="#26358c" />
<polygon points="145.9,294.3 176,311.7 191.9,302.5 161.8,285.2" fill="#ffffff" />
<polygon points="148.6,297.6 176,309.4 189.4,302.2 162.5,290.2" fill="#2a2324" />
<rect x="164.7" y="277" width="4.6" height="22" fill="#55565a"/>
<ellipse cx="167" cy="277" rx="2.3" ry="1.2" fill="#77787b"/>
<rect x="165.8" y="291" width="2.4" height="7" fill="#f0502c"/>
<rect x="175.2" y="281" width="4.6" height="22" fill="#55565a"/>
<ellipse cx="177.5" cy="281" rx="2.3" ry="1.2" fill="#77787b"/>
<rect x="176.3" y="295" width="2.4" height="7" fill="#f0502c"/>
<ellipse cx="157" cy="297" rx="4" ry="3" fill="#8a8b8e"/>
<polygon points="154.5,316.6 150,314 150,308.5 154.5,311.1" fill="#f4c4c6" />
<polygon points="153.7,315.2 150.8,313.6 150.8,309.9 153.7,311.5" fill="#ee3a43" />
<polygon points="154.5,331.6 150,329 150,322.5 154.5,325.1" fill="#f4c4c6" />
<polygon points="153.7,330.2 150.8,328.6 150.8,323.9 153.7,325.5" fill="#ee3a43" />
<polygon points="174,328.8 161.5,321.6 161.5,314.6 174,321.8" fill="#f6d0d0" />
<polygon points="173,326.9 162.5,320.8 162.5,316.6 173,322.7" fill="#ee3a43" />
<polygon points="177.5,328.6 188.5,322.3 188.5,315.8 177.5,322.1" fill="#f6d0d0" />
<polygon points="178.5,326.7 187.5,321.5 187.5,317.8 178.5,323" fill="#ee3a43" />
<polygon points="174,343.8 161.5,336.6 161.5,329.6 174,336.8" fill="#f6d0d0" />
<polygon points="173,341.9 162.5,335.8 162.5,331.6 173,337.7" fill="#ee3a43" />
<polygon points="177.5,343.6 188.5,337.3 188.5,330.8 177.5,337.1" fill="#f6d0d0" />
<polygon points="178.5,341.7 187.5,336.5 187.5,332.8 178.5,338" fill="#ee3a43" />
<polygon points="203.4,352.9 211,348.5 211,330.3 203.4,334.7" fill="#ffffff" />
<ellipse cx="206.2" cy="304.4" rx="1.7" ry="2" fill="#fff" stroke="#f47b20" stroke-width="0.9"/>
<path d="M190,276.5 C180,252 158,232 156.9,211.5 C156,197 166,187.8 179.7,187.8 C197,187.8 212,206 211.6,228 C211.3,243 200,258 190,276.5 Z M166.5,214.2 C166,206 172,201.5 181.5,202.4 C192,203.5 200,216 199.8,229.8 C199.6,238 196,243.8 190.6,243.5 C180,243 167.5,228 166.5,214.2 Z" fill="#c5132d" fill-rule="evenodd" transform="translate(3.2,0.7)"/>
<path d="M190,276.5 C180,252 158,232 156.9,211.5 C156,197 166,187.8 179.7,187.8 C197,187.8 212,206 211.6,228 C211.3,243 200,258 190,276.5 Z M166.5,214.2 C166,206 172,201.5 181.5,202.4 C192,203.5 200,216 199.8,229.8 C199.6,238 196,243.8 190.6,243.5 C180,243 167.5,228 166.5,214.2 Z" fill="#c5132d" fill-rule="evenodd" transform="translate(1.6,0.35)"/>
<path d="M190,276.5 C180,252 158,232 156.9,211.5 C156,197 166,187.8 179.7,187.8 C197,187.8 212,206 211.6,228 C211.3,243 200,258 190,276.5 Z M166.5,214.2 C166,206 172,201.5 181.5,202.4 C192,203.5 200,216 199.8,229.8 C199.6,238 196,243.8 190.6,243.5 C180,243 167.5,228 166.5,214.2 Z" fill="#f03f4a" fill-rule="evenodd"/>
<ellipse cx="433.9" cy="324.2" rx="10.7" ry="4.4" fill="#70b648"/>
<rect x="432.6" y="300.1" width="2.6" height="24.1" fill="#6e3b2c"/>
<clipPath id="c433"><ellipse cx="433.9" cy="290.4" rx="13.8" ry="14.4"/></clipPath>
<ellipse cx="433.9" cy="290.4" rx="13.8" ry="14.4" fill="#519b46"/>
<ellipse cx="439" cy="290" rx="11" ry="13.4" fill="#7ab16d" clip-path="url(#c433)"/>
<ellipse cx="472.8" cy="331" rx="19.5" ry="8.7" fill="#70b648"/>
<rect x="470.7" y="292.5" width="4.2" height="38.5" fill="#6e3b2c"/>
<clipPath id="c472"><ellipse cx="472.8" cy="276" rx="23.6" ry="24.5"/></clipPath>
<ellipse cx="472.8" cy="276" rx="23.6" ry="24.5" fill="#519b46"/>
<ellipse cx="481.5" cy="275.3" rx="18.9" ry="22.9" fill="#7ab16d" clip-path="url(#c472)"/>
<ellipse cx="70.7" cy="516" rx="20" ry="7.5" fill="#70b648"/>
<rect x="68.5" y="475" width="4.3" height="41" fill="#6e3b2c"/>
<clipPath id="c70"><ellipse cx="70.7" cy="458.3" rx="23.9" ry="24.9"/></clipPath>
<ellipse cx="70.7" cy="458.3" rx="23.9" ry="24.9" fill="#519b46"/>
<ellipse cx="79.5" cy="457.6" rx="19.1" ry="23.2" fill="#7ab16d" clip-path="url(#c70)"/>
<ellipse cx="331.2" cy="492.6" rx="12" ry="5" fill="#70b648"/>
<rect x="329.9" y="468" width="2.6" height="24.6" fill="#6e3b2c"/>
<clipPath id="c331"><ellipse cx="331.2" cy="458.8" rx="13.1" ry="13.6"/></clipPath>
<ellipse cx="331.2" cy="458.8" rx="13.1" ry="13.6" fill="#519b46"/>
<ellipse cx="336" cy="458.4" rx="10.5" ry="12.7" fill="#7ab16d" clip-path="url(#c331)"/>
<ellipse cx="766.5" cy="425.6" rx="10.8" ry="4.7" fill="#70b648"/>
<rect x="765.2" y="406.3" width="2.6" height="19.3" fill="#6e3b2c"/>
<clipPath id="c766"><ellipse cx="766.5" cy="398" rx="11.9" ry="12.4"/></clipPath>
<ellipse cx="766.5" cy="398" rx="11.9" ry="12.4" fill="#519b46"/>
<ellipse cx="770.9" cy="397.6" rx="9.5" ry="11.5" fill="#7ab16d" clip-path="url(#c766)"/>
<polygon points="541.4,243.8 552.7,237.2 568,246.4 557.1,252.1" fill="#b9a99c" />
<polygon points="541.4,243.8 557.1,252.1 557.1,263.4 541.4,256.4" fill="#a99787" />
<polygon points="557.1,252.1 568,246.4 568,252 557.1,258" fill="#9c8a7b" />
<polygon points="557.9,255.6 568.4,249.9 573.2,258.2 573.2,262.6 564.1,267.8 557.9,264.3" fill="#1f8dcf" />
<polygon points="557.9,255.6 561.5,257.6 564.1,267.8 557.9,264.3" fill="#2a6fb8" />
<polygon points="562.2,257.2 568.9,253.2 571.6,257.9 564.6,261.9" fill="#e6f3f7" />
<ellipse cx="565.8" cy="265" rx="0.9" ry="1" fill="#f6c544"/>
<ellipse cx="571.4" cy="261.9" rx="0.9" ry="1" fill="#f6c544"/>
<ellipse cx="544.4" cy="259.1" rx="1.9" ry="2.3" fill="#2b2b2b"/>
<ellipse cx="544.4" cy="259.1" rx="1" ry="1.3" fill="#c9c9d6"/>
<ellipse cx="551.4" cy="262.6" rx="1.9" ry="2.3" fill="#2b2b2b"/>
<ellipse cx="551.4" cy="262.6" rx="1" ry="1.3" fill="#c9c9d6"/>
<ellipse cx="560.1" cy="267.8" rx="1.9" ry="2.3" fill="#2b2b2b"/>
<ellipse cx="560.1" cy="267.8" rx="1" ry="1.3" fill="#c9c9d6"/>
<polygon points="520.8,506.3 527.5,500.6 528,498.4 535.4,494.9 545.8,497.4 546.4,503.6 528.6,514.5 520.8,509.8" fill="#ea4b22" />
<polygon points="528.6,514.5 546.4,503.6 545.8,497.4 540,498.6 533.2,502.4 533,506.5 527.8,510.2" fill="#d9421c" />
<polygon points="521.1,506 527.2,501 532.8,504.2 527.6,509.9" fill="#f4613a" />
<polygon points="527.9,498.5 535.4,495.1 540.4,498 533.1,502" fill="#f4613a" />
<polygon points="527.4,499.7 532.5,501.9 532.5,504.8 527.4,502.5" fill="#f3f3f3" />
<polygon points="534.6,502.6 538.8,500.1 538.8,502.7 534.6,505.2" fill="#f1d9d0" />
<line x1="521" y1="509.3" x2="528.4" y2="513.9" stroke="#e9e3e0" stroke-width="1.1"/>
<ellipse cx="532.3" cy="511.6" rx="1.6" ry="2.1" fill="#2b2b2b"/>
<ellipse cx="541.9" cy="506.2" rx="1.6" ry="2.1" fill="#2b2b2b"/>
<text transform="translate(119.5,13.8) rotate(30)" font-size="13.5" fill="#ffffff" font-weight="400" textLength="67" lengthAdjust="spacingAndGlyphs" >&lt; ไปกรุงเทพ</text>
<text transform="translate(58.5,57.6) rotate(30.3)" font-size="12.4" fill="#1f1f1f" font-weight="500" textLength="80" lengthAdjust="spacingAndGlyphs" >นิคมอุตสหกรรม</text>
<text transform="translate(70,77.6) rotate(30.3)" font-size="12.4" fill="#1f1f1f" font-weight="500" textLength="34.5" lengthAdjust="spacingAndGlyphs" >ราชบุรี</text>
<text transform="translate(75.6,127.2) rotate(30.7)" font-size="12.4" fill="#1f1f1f" font-weight="500" textLength="59" lengthAdjust="spacingAndGlyphs" >โรงพยาบาล</text>
<text transform="translate(70.5,137.7) rotate(30.5)" font-size="12.4" fill="#1f1f1f" font-weight="500" textLength="51" lengthAdjust="spacingAndGlyphs" >เจ็ดเสมียน</text>
<text transform="translate(192.3,92.8) rotate(30)" font-size="12.4" fill="#1f1f1f" font-weight="500" textLength="28.5" lengthAdjust="spacingAndGlyphs" >บริษัท</text>
<text transform="translate(185,101.6) rotate(30)" font-size="12.4" fill="#1f1f1f" font-weight="500" textLength="29" lengthAdjust="spacingAndGlyphs" >ยืนยิ่ง</text>
<text transform="translate(177,108.6) rotate(30)" font-size="12.4" fill="#1f1f1f" font-weight="500" textLength="28" lengthAdjust="spacingAndGlyphs" >จำกัด</text>
<text transform="translate(327,98.3) rotate(31.5)" font-size="12.4" fill="#1f1f1f" font-weight="500" textLength="69" lengthAdjust="spacingAndGlyphs" >แยกไฟแดงเข้า</text>
<text transform="translate(325.3,111) rotate(31.5)" font-size="12.4" fill="#1f1f1f" font-weight="500" textLength="52" lengthAdjust="spacingAndGlyphs" >เจ็ดเสมียน</text>
<text transform="translate(246.5,164.3) rotate(-28)" font-size="9.3" fill="#ffffff" font-weight="400" textLength="70.5" lengthAdjust="spacingAndGlyphs" >&lt; ทางไปเจ็ดเสมียน</text>
<text transform="translate(248.3,208.5) rotate(34.8)" font-size="12.4" fill="#1f1f1f" font-weight="500" textLength="70" lengthAdjust="spacingAndGlyphs" >เทศบาลตำบล</text>
<text transform="translate(246.8,222.5) rotate(33.5)" font-size="12.4" fill="#1f1f1f" font-weight="500" textLength="58" lengthAdjust="spacingAndGlyphs" >เจ็ดเสมียน</text>
<text transform="translate(38.8,224.5) rotate(62)" font-size="11" fill="#ee3340" font-weight="400" textLength="43" lengthAdjust="spacingAndGlyphs" >ทางรถไฟ</text>
<text transform="translate(419.6,187.4) rotate(31.6)" font-size="15.2" fill="#ffffff" font-weight="400" textLength="107.5" lengthAdjust="spacingAndGlyphs" >ถนน เพชรเกษม</text>
<text transform="translate(539.8,288) rotate(31)" font-size="12.4" fill="#1f1f1f" font-weight="500" textLength="71" lengthAdjust="spacingAndGlyphs" >ตลาดนัดเปิร์ด</text>
<text transform="translate(542.3,304) rotate(31)" font-size="12.4" fill="#1f1f1f" font-weight="500" textLength="44" lengthAdjust="spacingAndGlyphs" >คลองถม</text>
<text transform="translate(405.3,357.8) rotate(1)" font-size="13.3" fill="#ffffff" font-weight="400" textLength="130.5" lengthAdjust="spacingAndGlyphs" >ถนน เพชรเกษมสายเก่า</text>
<text transform="translate(118.5,453) rotate(30.9)" font-size="14" fill="#eef9fd" font-weight="300" textLength="98" lengthAdjust="spacingAndGlyphs" >แม่น้ำ แม่กลอง</text>
<text transform="translate(510.5,566.5) rotate(31.5)" font-size="13" fill="#ffffff" font-weight="400" textLength="96" lengthAdjust="spacingAndGlyphs" >ไปเมืองราชบุรี &gt;</text>
<text x="574.5" y="59.2" font-size="21.5" fill="#2b3867" textLength="217" lengthAdjust="spacingAndGlyphs">บริษัท สหสากลมาร์เก็ตติ้ง จำกัด</text>
<text x="628.9" y="105.9" font-size="11.4" fill="#2b3867" textLength="15.8" lengthAdjust="spacingAndGlyphs" font-weight="400">39</text>
<text x="648.7" y="105.9" font-size="13.8" fill="#2b3867" textLength="15.4" lengthAdjust="spacingAndGlyphs">หมู่</text>
<text x="667.7" y="105.9" font-size="11.4" fill="#2b3867" textLength="7.7" lengthAdjust="spacingAndGlyphs" font-weight="400">7</text>
<text x="679" y="105.9" font-size="13.8" fill="#2b3867" textLength="89.8" lengthAdjust="spacingAndGlyphs">ถ.เพชรเกษมสายเก่า</text>
<text x="629" y="123.9" font-size="13.8" fill="#2b3867" textLength="39.6" lengthAdjust="spacingAndGlyphs">ต.ท่าราบ</text>
<text x="672.3" y="123.9" font-size="13.8" fill="#2b3867" textLength="29.9" lengthAdjust="spacingAndGlyphs">อ.เมือง</text>
<text x="707" y="123.9" font-size="13.8" fill="#2b3867" textLength="31.5" lengthAdjust="spacingAndGlyphs">ราชบุรี</text>
<text x="742.8" y="123.9" font-size="11.4" fill="#2b3867" textLength="40.9" lengthAdjust="spacingAndGlyphs" font-weight="400">70000</text>
<text x="628.9" y="163.1" font-size="11.4" fill="#2b3867" textLength="89.6" lengthAdjust="spacingAndGlyphs" font-weight="400">032-206853-5</text>
<polygon points="529.6,56.8 529.6,71.2 514.6,87.6 510.7,86.2 510.7,79.7" fill="#ffffff" />
<polygon points="510.7,85.4 514.6,86.4 529.6,93.4 529.6,97.4 510.7,89.6" fill="#ffffff" />
<polygon points="529.6,94.6 529.6,105.7 512.2,124.6 512.2,113.4" fill="#ffffff" />
<text x="520.8" y="147.2" font-size="11.6" fill="#fff" text-anchor="middle" textLength="83" lengthAdjust="spacingAndGlyphs" font-weight="400" font-family="'Liberation Sans',sans-serif">SAHA SAKOL</text>
<text x="520.6" y="156.8" font-size="5.7" fill="#fff" text-anchor="middle" textLength="47.7" lengthAdjust="spacing" font-weight="400" font-family="'Liberation Sans',sans-serif">MARKETING</text>
<path d="M600.7,94.5 L612.6,106.3 L589.1,106.3 Z" fill="#2b3867"/>
<rect x="589.3" y="106.3" width="23.1" height="14.6" fill="#2b3867"/>
<rect x="585.7" y="120.9" width="30" height="0.9" fill="#8d8598"/>
<rect x="591" y="108.7" width="4.6" height="4.6" fill="#fff"/>
<rect x="591" y="115.3" width="4.6" height="4.6" fill="#fff"/>
<rect x="598.6" y="108.7" width="4.6" height="4.6" fill="#fff"/>
<rect x="598.6" y="115.3" width="4.6" height="4.6" fill="#fff"/>
<rect x="606.1" y="108.7" width="4.6" height="4.6" fill="#fff"/>
<rect x="606.1" y="115.3" width="4.6" height="4.6" fill="#fff"/>
<path d="M588.1,156.4 L588.1,153 Q588.1,148.6 593,147.4 Q600.7,145.2 608.4,147.4 Q614.3,148.6 614.3,153 L614.3,156.4 L609.6,157 L609.2,152.6 Q600.7,150 593.2,152.6 L592.8,157 Z" fill="#2b3867"/>
<path d="M596.6,153.4 L605.6,153.4 Q611.5,160 612.9,167.2 L589.3,167.2 Q590.5,160 596.6,153.4 Z" fill="#2b3867"/>
<rect x="587.6" y="167.2" width="26" height="0.8" fill="#8d8598"/>
<rect x="597.4" y="155.9" width="1.7" height="1.7" fill="#fff"/>
<rect x="597.4" y="158.8" width="1.7" height="1.7" fill="#fff"/>
<rect x="597.4" y="161.7" width="1.7" height="1.7" fill="#fff"/>
<rect x="600.3" y="155.9" width="1.7" height="1.7" fill="#fff"/>
<rect x="600.3" y="158.8" width="1.7" height="1.7" fill="#fff"/>
<rect x="600.3" y="161.7" width="1.7" height="1.7" fill="#fff"/>
<rect x="603.2" y="155.9" width="1.7" height="1.7" fill="#fff"/>
<rect x="603.2" y="158.8" width="1.7" height="1.7" fill="#fff"/>
<rect x="603.2" y="161.7" width="1.7" height="1.7" fill="#fff"/>
<rect x="0" y="628" width="803" height="1" fill="#777"/>
<rect x="0" y="629" width="803" height="1" fill="#222"/>
</svg>
</body></html>
